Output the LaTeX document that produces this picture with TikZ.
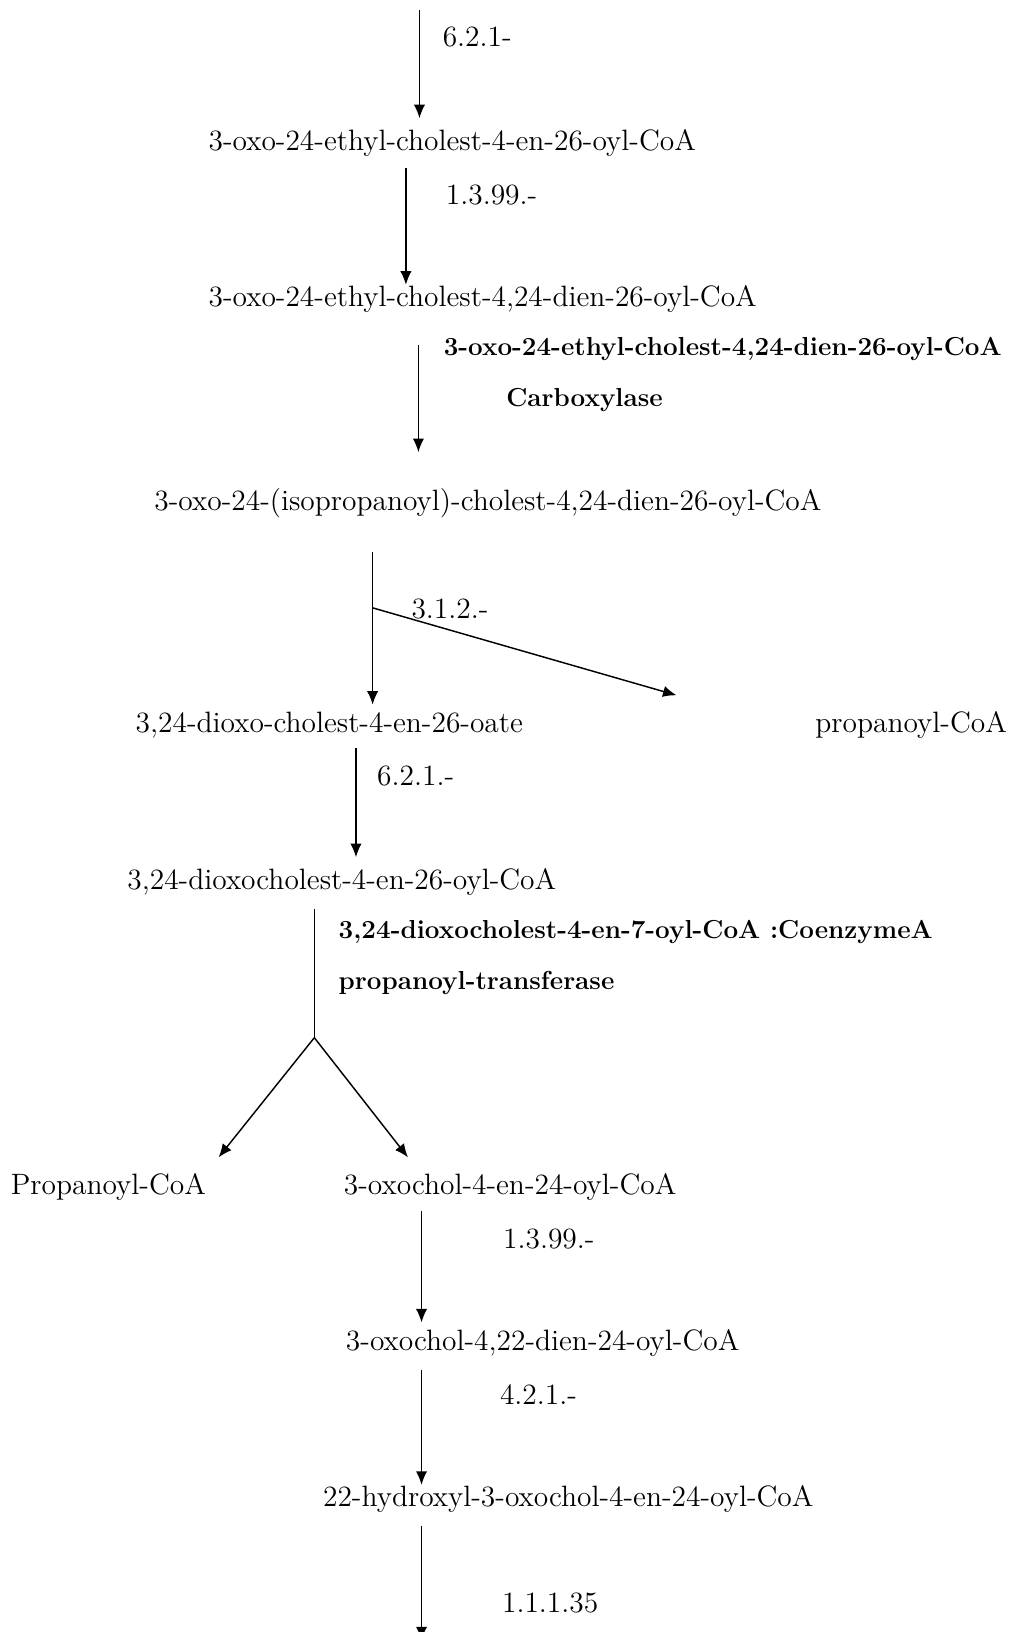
\documentclass[tikz,border=0pt]{standalone}
\usepackage{fontspec}
\usetikzlibrary{arrows.meta}
\tikzset{
  cmpd/.style={anchor=west, inner sep=0pt, font=\fontsize{14.15}{17}\selectfont},
  enz/.style={anchor=west, inner sep=0pt, font=\fontsize{14.15}{17}\selectfont},
  enzb/.style={anchor=west, inner sep=0pt, font=\fontsize{12.5}{15}\selectfont\bfseries},
  rxn/.style={-{Latex[length=6.5pt,width=5.4pt]}, line width=0.7pt},
  bar/.style={line width=0.7pt},
}
\begin{document}
\begin{tikzpicture}[x=0.5pt,y=-0.5pt]
\useasboundingbox (0,0) rectangle (973,1568);
% compounds
\node[cmpd] (oxoen) at (200,137) {3-oxo-24-ethyl-cholest-4-en-26-oyl-CoA};
\node[cmpd] (oxodien) at (200,287) {3-oxo-24-ethyl-cholest-4,24-dien-26-oyl-CoA};
\node[cmpd] (isoprop) at (148,483) {3-oxo-24-(isopropanoyl)-cholest-4,24-dien-26-oyl-CoA};
\node[cmpd] (dioxoate) at (130,697) {3,24-dioxo-cholest-4-en-26-oate};
\node[cmpd] (propA) at (783,697) {propanoyl-CoA};
\node[cmpd] (dioxocoa) at (122,847) {3,24-dioxocholest-4-en-26-oyl-CoA};
\node[cmpd] (propB) at (10,1140) {Propanoyl-CoA};
\node[cmpd] (cholen) at (330,1140) {3-oxochol-4-en-24-oyl-CoA};
\node[cmpd] (choldien) at (332,1290) {3-oxochol-4,22-dien-24-oyl-CoA};
\node[cmpd] (hydroxy) at (310,1440) {22-hydroxyl-3-oxochol-4-en-24-oyl-CoA};
% enzymes
\node[enz] (ec1) at (425,36) {6.2.1-};
\node[enz] (ec2) at (428,187) {1.3.99.-};
\node[enzb] (ec3a) at (426,335) {3-oxo-24-ethyl-cholest-4,24-dien-26-oyl-CoA};
\node[enzb] (ec3b) at (486,384) {Carboxylase};
\node[enz] (ec4) at (395,585) {3.1.2.-};
\node[enz] (ec5) at (362,746) {6.2.1.-};
\node[enzb] (ec6a) at (325,895) {3,24-dioxocholest-4-en-7-oyl-CoA :CoenzymeA};
\node[enzb] (ec6b) at (325,944) {propanoyl-transferase};
\node[enz] (ec7) at (483,1190) {1.3.99.-};
\node[enz] (ec8) at (480,1340) {4.2.1.-};
\node[enz] (ec9) at (482,1540) {1.1.1.35};
% free ends
\coordinate (start) at (403,10);
\coordinate (j1) at (358,584);
\coordinate (propAtip) at (650,668);
\coordinate (j2) at (302,997);
\coordinate (propBtip) at (210,1112);
\coordinate (cholentip) at (392,1112);
\coordinate (finish) at (405,1576);
% reactions
\draw[rxn, shorten >=5pt] (start) -- (oxoen.north -| start);
\draw[rxn, shorten <=5.5pt] (oxoen.south -| 390,0) -- (oxodien.north -| 390,0);
\draw[rxn, shorten <=15.5pt, shorten >=17pt] (oxodien.south -| 402,0) -- (isoprop.north -| 402,0);
\draw[rxn, shorten <=16.5pt, shorten >=3.5pt] (isoprop.south -| j1) -- (dioxoate.north -| j1);
\draw[rxn] (j1) -- (propAtip);
\draw[rxn, shorten <=4.5pt, shorten >=5pt] (dioxoate.south -| 342,0) -- (dioxocoa.north -| 342,0);
\draw[bar, shorten <=6.5pt] (dioxocoa.south -| j2) -- (j2);
\draw[rxn] (j2) -- (propBtip);
\draw[rxn] (j2) -- (cholentip);
\draw[rxn, shorten <=5pt, shorten >=3pt] (cholen.south -| 405,0) -- (choldien.north -| 405,0);
\draw[rxn, shorten <=6.5pt] (choldien.south -| 405,0) -- (hydroxy.north -| 405,0);
\draw[rxn, shorten <=6.5pt] (hydroxy.south -| finish) -- (finish);
\end{tikzpicture}
\end{document}
